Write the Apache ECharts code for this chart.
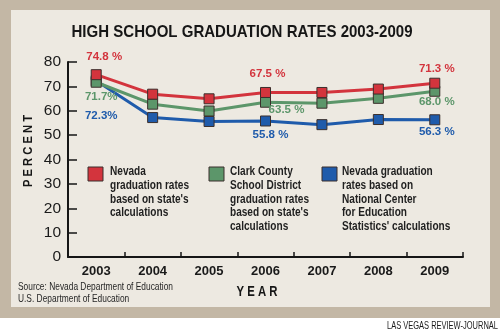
<!DOCTYPE html>
<html>
<head>
<meta charset="utf-8">
<script src="https://cdn.jsdelivr.net/npm/echarts@6/dist/echarts.min.js"></script>
<style>
  html, body { margin: 0; padding: 0; background: #ffffff; }
  #chart { width: 500px; height: 336px; }
</style>
</head>
<body>
<div id="chart"></div>
<script>
// Graduation rates, percent
const years = ['2003', '2004', '2005', '2006', '2007', '2008', '2009'];
const nevadaState = [74.8, 66.8, 64.9, 67.5, 67.5, 68.9, 71.3];
const clarkCounty = [71.7, 62.7, 59.9, 63.5, 63.1, 65.1, 68.0];
const nevadaNces = [72.3, 57.2, 55.6, 55.8, 54.3, 56.4, 56.3];
const yTicks = [0, 10, 20, 30, 40, 50, 60, 70, 80];

const seriesNames = [
  'Nevada\ngraduation rates\nbased on state\'s\ncalculations',
  'Clark County\nSchool District\ngraduation rates\nbased on state\'s\ncalculations',
  'Nevada graduation\nrates based on\nNational Center\nfor Education\nStatistics\' calculations'
];

const FONT = '"Liberation Sans", Arial, sans-serif';
const RED = '#d3343d', GREEN = '#5c966a', BLUE = '#1f5bab';
const EDGE = '#3b2f2c';
const INK = '#161616';

// horizontal squeeze so a line of text spans the given width (condensed look)
const measureCtx = document.createElement('canvas').getContext('2d');
function squeeze(text, size, weight, width) {
  measureCtx.font = weight + ' ' + size + 'px ' + FONT;
  return width / measureCtx.measureText(text).width;
}

// value labels appear on the first, middle and last years
const labelled = [0, 3, 6];
function buildData(values, color, offsets, compactFirst) {
  return values.map((v, i) => {
    const k = labelled.indexOf(i);
    if (k < 0) return v;
    const text = (compactFirst && i === 0) ? v.toFixed(1) + '%' : v.toFixed(1) + ' %';
    return {
      value: v,
      label: {
        show: true, position: 'inside', offset: offsets[k],
        formatter: text, color: color,
        fontFamily: FONT, fontWeight: 'bold', fontSize: 11.5
      }
    };
  });
}

function lineSeries(name, values, color, offsets, compactFirst, z) {
  return {
    name: name, type: 'line', z: z,
    data: buildData(values, color, offsets, compactFirst),
    symbol: 'rect', symbolSize: 10,
    lineStyle: { color: color, width: 3 },
    itemStyle: { color: color, borderColor: EDGE, borderWidth: 1 },
    emphasis: { disabled: true },
    animation: false
  };
}

const chart = echarts.init(document.getElementById('chart'), null, { renderer: 'canvas' });

const legendScale = squeeze('graduation rates', 12, 'bold', 79);
const legendItems = [
  { color: RED, sx: 88, tx: 110, text: seriesNames[0] },
  { color: GREEN, sx: 209, tx: 230, text: seriesNames[1] },
  { color: BLUE, sx: 322, tx: 342, text: seriesNames[2] }
];

const titleText = 'HIGH SCHOOL GRADUATION RATES 2003-2009';
const sourceText = 'Source: Nevada Department of Education\nU.S. Department of Education';
const creditText = 'LAS VEGAS REVIEW-JOURNAL';
const xName = 'Y E A R';
const yName = 'P E R C E N T';

const graphics = [
  { type: 'rect', z: -10, silent: true, shape: { x: 0, y: 0, width: 500, height: 318 }, style: { fill: '#c3b7a5' } },
  { type: 'rect', z: -9, silent: true, shape: { x: 11, y: 10, width: 479, height: 297 }, style: { fill: '#ede9e1' } },
  { type: 'text', x: 242, y: 32, scaleX: squeeze(titleText, 17, 'bold', 341),
    style: { text: titleText, fontFamily: FONT, fontWeight: 'bold', fontSize: 17, fill: INK, align: 'center', verticalAlign: 'middle' } },
  { type: 'text', x: 18, y: 281.3, scaleX: squeeze('Source: Nevada Department of Education', 10.5, 'normal', 155),
    style: { text: sourceText, fontFamily: FONT, fontSize: 10.5, lineHeight: 11.7, fill: '#262626', align: 'left', verticalAlign: 'top' } },
  { type: 'text', x: 498, y: 326, scaleX: squeeze(creditText, 10, 'normal', 111),
    style: { text: creditText, fontFamily: FONT, fontSize: 10, fill: '#1a1a1a', align: 'right', verticalAlign: 'middle' } },
  { type: 'text', x: 257, y: 292, scaleX: squeeze(xName, 14, 'bold', 41),
    style: { text: xName, fontFamily: FONT, fontWeight: 'bold', fontSize: 14, fill: INK, align: 'center', verticalAlign: 'middle' } },
  { type: 'text', x: 29, y: 151, rotation: Math.PI / 2, scaleX: squeeze(yName, 12, 'bold', 72),
    style: { text: yName, fontFamily: FONT, fontWeight: 'bold', fontSize: 12, fill: INK, align: 'center', verticalAlign: 'middle' } }
];
legendItems.forEach(it => {
  graphics.push({ type: 'rect', shape: { x: it.sx, y: 167, width: 15, height: 14 }, style: { fill: it.color, stroke: EDGE, lineWidth: 1 } });
  graphics.push({ type: 'text', x: it.tx, y: 165, scaleX: legendScale,
    style: { text: it.text, fontFamily: FONT, fontWeight: 'bold', fontSize: 12, lineHeight: 13.7, fill: '#1f1f1f', align: 'left', verticalAlign: 'top' } });
});

chart.setOption({
  animation: false,
  grid: { left: 68, top: 62, width: 395, height: 195, containLabel: false },
  xAxis: {
    type: 'category', data: years, boundaryGap: true,
    axisLine: { lineStyle: { color: INK, width: 2 } },
    axisTick: { show: true, inside: true, length: 5, alignWithLabel: false, lineStyle: { color: INK, width: 1.5 } },
    axisLabel: { margin: 8, fontFamily: FONT, fontWeight: 'bold', fontSize: 13, color: '#1a1a1a' },
    splitLine: { show: false }
  },
  yAxis: {
    type: 'value', min: yTicks[0], max: yTicks[yTicks.length - 1], interval: 10,
    axisLine: { show: true, lineStyle: { color: INK, width: 2 } },
    axisTick: { show: true, inside: true, length: 9, lineStyle: { color: INK, width: 1.5 } },
    axisLabel: { margin: 7, fontFamily: FONT, fontSize: 15.5, color: '#1a1a1a' },
    splitLine: { show: false }
  },
  series: [
    lineSeries(seriesNames[2], nevadaNces, BLUE, [[5, 35], [5, 14], [2, 12]], true, 2),
    lineSeries(seriesNames[1], clarkCounty, GREEN, [[5, 15], [21, 8], [2, 11]], true, 3),
    lineSeries(seriesNames[0], nevadaState, RED, [[8, -18], [2, -19], [2, -14]], false, 4)
  ],
  graphic: graphics
});
</script>
</body>
</html>
